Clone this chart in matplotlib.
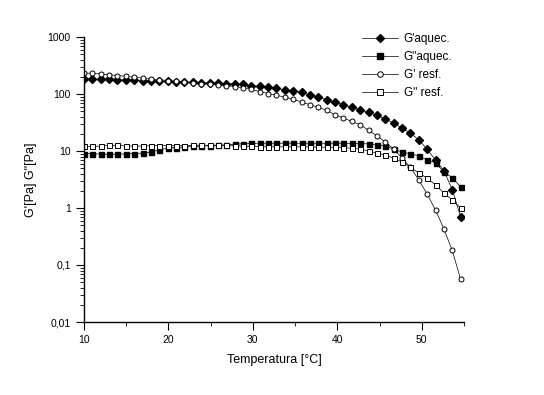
import numpy as np
import matplotlib.pyplot as plt
from matplotlib.ticker import FixedLocator, LogLocator, NullFormatter

plt.rcParams['font.family'] = ['Liberation Sans', 'DejaVu Sans']

# temperatura [°C] - um ponto por grau aprox.
temp = np.linspace(10, 54.6, 46)

g1_aquec = [183, 182, 181, 180, 178, 176, 174, 172, 170, 168,
            166, 164, 162, 160, 158, 156, 154, 152, 150, 147,
            140, 136, 131, 125, 119, 114, 108, 96, 89, 80,
            72, 65, 59, 53, 48, 42, 36, 31, 25, 20.7,
            15.6, 10.8, 6.9, 4.5, 2.1, 0.7]

g2_aquec = [9.0, 9.0, 8.8, 8.7, 8.8, 8.9, 9.0, 9.2, 9.5, 10.5,
            11.2, 11.5, 11.8, 12.0, 12.2, 12.4, 12.6, 12.8, 13.2, 13.4,
            13.6, 13.7, 13.7, 13.7, 13.7, 13.7, 13.7, 13.7, 13.7, 13.7,
            13.7, 13.7, 13.6, 13.6, 13.3, 13.0, 12.2, 10.8, 9.6, 8.9,
            8.2, 6.95, 6.2, 4.3, 3.4, 2.33]

g1_resf = [234, 230, 225, 218, 211, 204, 197, 190, 184, 178,
           172, 167, 162, 157, 152, 148, 144, 140, 135, 128,
           120, 110, 102, 95, 88, 81, 72, 65, 58, 52,
           43, 38, 33, 29, 23, 18.5, 14.4, 10.8, 7.5, 5.2,
           3.1, 1.76, 0.92, 0.43, 0.18, 0.056]

g2_resf = [12.0, 12.0, 12.2, 12.6, 12.6, 12.2, 12.2, 12.2, 12.4, 12.4,
           12.4, 12.4, 12.4, 12.6, 12.6, 12.6, 12.6, 12.6, 12.4, 12.2,
           12.0, 11.9, 11.8, 11.8, 11.8, 11.8, 11.8, 11.7, 11.7, 11.6,
           11.6, 11.4, 11.2, 10.8, 10.0, 9.2, 8.5, 7.5, 6.4, 5.2,
           4.1, 3.36, 2.54, 1.83, 1.38, 1.0]

fig = plt.figure(figsize=(5.44, 3.95), dpi=100)
ax = fig.add_axes([84/544, 1 - 322/395, 380/544, 285/395])

kw = dict(color='black', lw=0.5, markersize=3.6)
ax.plot(temp, g1_aquec, marker='D', mfc='black', mec='black', label="G'aquec.", **kw)
ax.plot(temp, g2_aquec, marker='s', mfc='black', mec='black', label='G"aquec.', **kw)
ax.plot(temp, g1_resf, marker='o', mfc='white', mec='black', mew=0.7, label="G' resf.", **kw)
ax.plot(temp, g2_resf, marker='s', mfc='white', mec='black', mew=0.7, label='G" resf.', **kw)

ax.set_yscale('log')
ax.set_xlim(10, 55)
ax.set_ylim(0.01, 1000)
ax.set_yticks([0.01, 0.1, 1, 10, 100, 1000])
ax.set_yticklabels(['0,01', '0,1', '1', '10', '100', '1000'])
ax.yaxis.set_minor_locator(LogLocator(base=10, subs=np.arange(2, 10)))
ax.yaxis.set_minor_formatter(NullFormatter())
ax.set_xticks([10, 20, 30, 40, 50])
ax.xaxis.set_minor_locator(FixedLocator([15, 25, 35, 45, 55]))

for s in ['top', 'right']:
    ax.spines[s].set_visible(False)
for s in ['left', 'bottom']:
    ax.spines[s].set_linewidth(1.0)

ax.tick_params(axis='both', which='major', direction='out', length=6, width=0.8, labelsize=7.5)
ax.tick_params(axis='both', which='minor', direction='out', length=3, width=0.6)

ax.set_xlabel('Temperatura [°C]', fontsize=9, labelpad=6)
ax.set_ylabel('G\'[Pa] G"[Pa]', fontsize=9, labelpad=8)

ax.legend(loc='upper left', bbox_to_anchor=(0.72, 1.03), frameon=False, fontsize=8.5,
          handlelength=3.0, handletextpad=0.5, labelspacing=0.5, borderaxespad=0,
          markerscale=1.1)

fig.savefig('out.png', dpi=100)
